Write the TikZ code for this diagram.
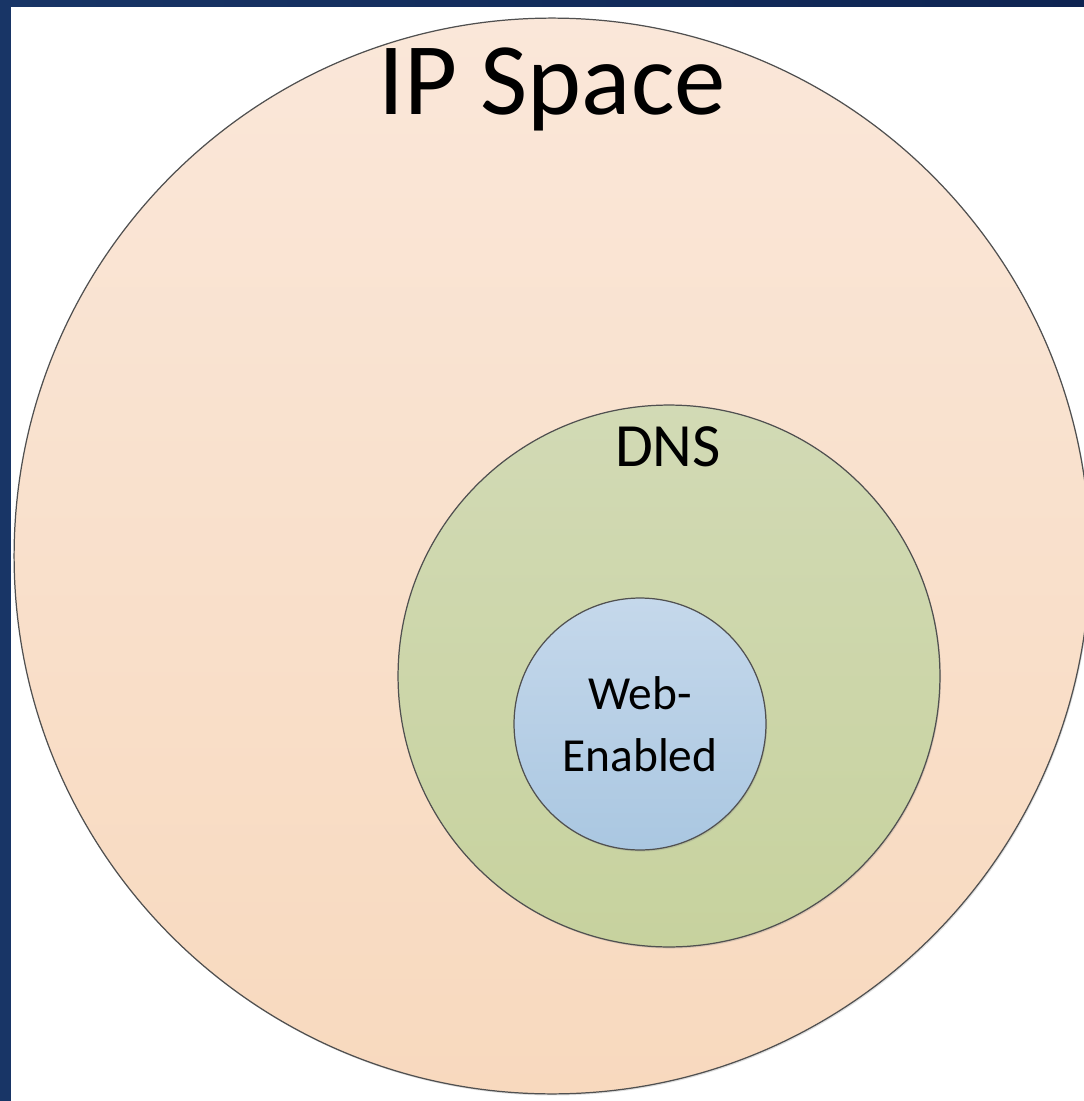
\documentclass[tikz,border=0pt]{standalone}
\usepackage{fontspec}
\setmainfont{Carlito}
\usetikzlibrary{shadows}
\definecolor{navy}{RGB}{24,53,102}
\definecolor{navydark}{RGB}{14,36,82}
\definecolor{peachtop}{RGB}{250,231,217}
\definecolor{peachbot}{RGB}{248,217,190}
\definecolor{olivetop}{RGB}{210,218,181}
\definecolor{olivebot}{RGB}{199,210,158}
\definecolor{bluetop}{RGB}{197,216,235}
\definecolor{bluebot}{RGB}{170,199,225}
\definecolor{rim}{RGB}{80,80,80}
\tikzstyle{zone} = [circle, draw=rim, line width=0.7pt, inner sep=0pt, drop shadow={shadow xshift=0.6pt, shadow yshift=-0.9pt, opacity=0.25}]
\tikzstyle{ipzone} = [zone, minimum size=21.52cm, top color=peachtop, bottom color=peachbot]
\tikzstyle{dnszone} = [zone, minimum size=10.84cm, top color=olivetop, bottom color=olivebot]
\tikzstyle{webzone} = [zone, minimum size=5.04cm, top color=bluetop, bottom color=bluebot, align=center, font=\fontsize{27}{35.3}\selectfont]
\tikzstyle{label} = [anchor=base, inner sep=0pt]

\begin{document}
\begin{tikzpicture}[x=0.02cm, y=-0.02cm]
   \useasboundingbox (0,0) rectangle (1084,1101);
   \clip (0,0) rectangle (1084,1101);
   \fill[white] (0,0) rectangle (1084,1101);
   % frame
   \shade[left color=navy, right color=navydark] (0,0) rectangle (1084,7);
   \fill[navy] (0,0) rectangle (11,1101);
   % nested zones
   \node[ipzone]  (ip)  at (552,556) {};
   \node[dnszone] (dns) at (669,676) {};
   \node[webzone] (web) at (640,724) {Web-\\Enabled};
   \node[label, font=\fontsize{58.5}{70}\selectfont] (iplabel)  at (552,115) {IP Space};
   \node[label, font=\fontsize{35}{42}\selectfont]   (dnslabel) at (668,466) {DNS};
\end{tikzpicture}
\end{document}
